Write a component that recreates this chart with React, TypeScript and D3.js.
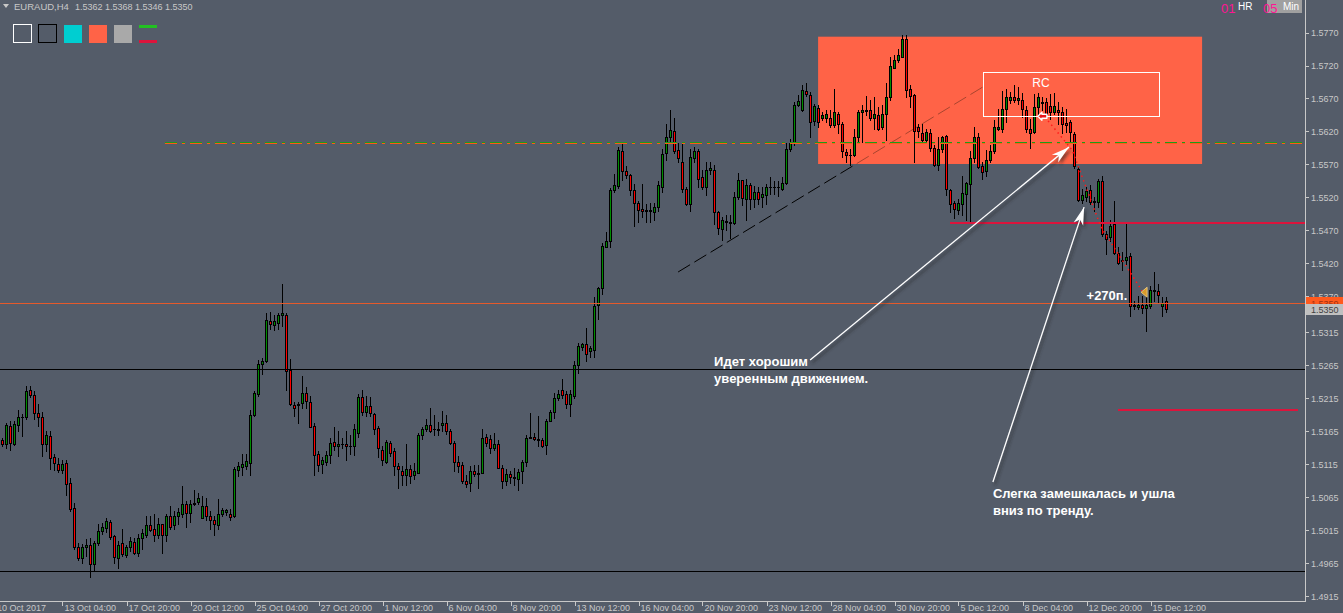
import React from "react";
import * as d3 from "d3";

const symbolTitle = "EURAUD,H4";
const lastQuote = ["1.5362", "1.5368", "1.5346", "1.5350"];

const priceTicks = [1.577, 1.572, 1.567, 1.562, 1.557, 1.552, 1.547, 1.542, 1.537, 1.5315, 1.5265, 1.5215, 1.5165, 1.5115, 1.5065, 1.5015, 1.4965, 1.4915];

const dateTickBars = [0, 15, 31, 47, 63, 79, 95, 111, 127, 143, 159, 175, 191, 207, 223, 239, 255, 271, 287];
const dateTickLabels = ["10 Oct 2017", "13 Oct 04:00", "17 Oct 20:00", "20 Oct 12:00", "25 Oct 04:00", "27 Oct 20:00", "1 Nov 12:00", "6 Nov 04:00", "8 Nov 20:00", "13 Nov 12:00", "16 Nov 04:00", "20 Nov 20:00", "23 Nov 12:00", "28 Nov 04:00", "30 Nov 20:00", "5 Dec 12:00", "8 Dec 04:00", "12 Dec 20:00", "15 Dec 12:00"];

// open, high, low, close
const candles: number[][] = [
  [1.5151,1.5155,1.5142,1.5145],[1.5146,1.5178,1.5140,1.5174],[1.5173,1.5181,1.5137,1.5147],[1.5146,1.5180,1.5144,1.5176],
  [1.5174,1.5198,1.5166,1.5186],[1.5186,1.5191,1.5158,1.5187],[1.5187,1.5234,1.5183,1.5226],[1.5228,1.5234,1.5217,1.5220],
  [1.5220,1.5226,1.5183,1.5193],[1.5193,1.5207,1.5173,1.5187],[1.5187,1.5194,1.5127,1.5145],[1.5146,1.5166,1.5135,1.5159],
  [1.5158,1.5165,1.5107,1.5124],[1.5126,1.5131,1.5106,1.5117],[1.5116,1.5124,1.5103,1.5106],[1.5106,1.5121,1.5102,1.5116],
  [1.5117,1.5122,1.5068,1.5085],[1.5086,1.5094,1.5044,1.5047],[1.5048,1.5056,1.4987,1.4989],[1.4990,1.4996,1.4969,1.4972],
  [1.4973,1.4994,1.4965,1.4989],[1.4990,1.5001,1.4975,1.4993],[1.4993,1.5003,1.4944,1.4964],[1.4963,1.4999,1.4955,1.4996],
  [1.4995,1.5025,1.4992,1.5014],[1.5014,1.5026,1.5009,1.5020],[1.5018,1.5033,1.5012,1.5029],[1.5027,1.5030,1.5001,1.5005],
  [1.5006,1.5008,1.4965,1.4974],[1.4973,1.4999,1.4957,1.4993],[1.4995,1.5016,1.4975,1.4978],[1.4977,1.4993,1.4974,1.4989],
  [1.4989,1.5005,1.4983,1.4998],[1.4997,1.5003,1.4978,1.4981],[1.4981,1.5009,1.4975,1.5003],[1.5003,1.5017,1.4987,1.5010],
  [1.5008,1.5037,1.5004,1.5022],[1.5022,1.5037,1.5013,1.5015],[1.5017,1.5040,1.4998,1.5007],[1.5008,1.5034,1.5003,1.5025],
  [1.5024,1.5025,1.4980,1.5008],[1.5008,1.5040,1.4999,1.5036],[1.5037,1.5052,1.5017,1.5020],[1.5022,1.5044,1.5017,1.5036],
  [1.5037,1.5048,1.5025,1.5042],[1.5040,1.5082,1.5035,1.5054],[1.5054,1.5059,1.5019,1.5041],[1.5041,1.5060,1.5027,1.5054],
  [1.5054,1.5076,1.5053,1.5056],[1.5057,1.5072,1.5054,1.5064],[1.5034,1.5067,1.5033,1.5052],[1.5052,1.5063,1.5031,1.5037],
  [1.5037,1.5044,1.5016,1.5031],[1.5031,1.5036,1.5008,1.5024],[1.5022,1.5062,1.5017,1.5040],[1.5040,1.5048,1.5036,1.5045],
  [1.5042,1.5047,1.5038,1.5045],[1.5040,1.5047,1.5031,1.5035],[1.5036,1.5111,1.5035,1.5107],[1.5106,1.5118,1.5097,1.5112],
  [1.5111,1.5131,1.5099,1.5116],[1.5113,1.5130,1.5108,1.5120],[1.5117,1.5197,1.5099,1.5190],[1.5189,1.5226,1.5188,1.5223],
  [1.5221,1.5273,1.5219,1.5267],[1.5267,1.5276,1.5252,1.5271],[1.5271,1.5344,1.5270,1.5334],[1.5333,1.5346,1.5320,1.5328],
  [1.5326,1.5342,1.5319,1.5333],[1.5330,1.5345,1.5320,1.5341],[1.5341,1.5388,1.5325,1.5344],[1.5342,1.5344,1.5228,1.5256],
  [1.5258,1.5275,1.5205,1.5206],[1.5205,1.5209,1.5188,1.5201],[1.5205,1.5209,1.5178,1.5206],[1.5208,1.5249,1.5201,1.5223],
  [1.5223,1.5232,1.5200,1.5211],[1.5210,1.5219,1.5171,1.5172],[1.5173,1.5178,1.5098,1.5129],[1.5131,1.5135,1.5105,1.5114],
  [1.5116,1.5126,1.5102,1.5121],[1.5119,1.5135,1.5114,1.5129],[1.5129,1.5155,1.5117,1.5147],[1.5148,1.5171,1.5137,1.5142],
  [1.5142,1.5165,1.5127,1.5146],[1.5145,1.5155,1.5140,1.5146],[1.5146,1.5165,1.5122,1.5142],[1.5143,1.5160,1.5130,1.5142],
  [1.5143,1.5176,1.5129,1.5168],[1.5163,1.5221,1.5157,1.5217],[1.5217,1.5228,1.5190,1.5194],[1.5194,1.5218,1.5188,1.5204],
  [1.5203,1.5217,1.5188,1.5192],[1.5191,1.5193,1.5161,1.5169],[1.5170,1.5173,1.5126,1.5139],[1.5137,1.5142,1.5114,1.5122],
  [1.5118,1.5152,1.5117,1.5148],[1.5147,1.5150,1.5127,1.5132],[1.5135,1.5140,1.5099,1.5113],[1.5112,1.5117,1.5079,1.5107],
  [1.5105,1.5112,1.5084,1.5098],[1.5099,1.5145,1.5084,1.5108],[1.5107,1.5114,1.5087,1.5097],[1.5098,1.5117,1.5092,1.5104],
  [1.5102,1.5163,1.5102,1.5160],[1.5160,1.5172,1.5154,1.5169],[1.5169,1.5183,1.5165,1.5175],[1.5175,1.5201,1.5164,1.5166],
  [1.5168,1.5190,1.5160,1.5169],[1.5169,1.5179,1.5160,1.5167],[1.5175,1.5196,1.5165,1.5178],[1.5178,1.5190,1.5161,1.5166],
  [1.5166,1.5169,1.5145,1.5147],[1.5147,1.5150,1.5104,1.5119],[1.5119,1.5127,1.5103,1.5113],[1.5114,1.5118,1.5087,1.5089],
  [1.5089,1.5099,1.5081,1.5085],[1.5087,1.5112,1.5074,1.5104],[1.5105,1.5114,1.5097,1.5100],[1.5100,1.5114,1.5079,1.5102],
  [1.5101,1.5168,1.5101,1.5155],[1.5157,1.5161,1.5142,1.5147],[1.5154,1.5160,1.5132,1.5140],[1.5140,1.5163,1.5137,1.5145],
  [1.5145,1.5151,1.5109,1.5110],[1.5109,1.5114,1.5079,1.5089],[1.5089,1.5107,1.5084,1.5100],[1.5100,1.5105,1.5087,1.5096],
  [1.5096,1.5109,1.5084,1.5094],[1.5093,1.5107,1.5076,1.5103],[1.5104,1.5122,1.5087,1.5118],[1.5119,1.5160,1.5113,1.5155],
  [1.5155,1.5193,1.5155,1.5157],[1.5157,1.5163,1.5151,1.5154],[1.5154,1.5188,1.5143,1.5152],[1.5152,1.5155,1.5141,1.5142],
  [1.5144,1.5183,1.5131,1.5181],[1.5181,1.5198,1.5180,1.5194],[1.5194,1.5223,1.5185,1.5216],[1.5216,1.5228,1.5213,1.5222],
  [1.5227,1.5244,1.5216,1.5220],[1.5221,1.5226,1.5201,1.5207],[1.5207,1.5228,1.5188,1.5221],[1.5218,1.5272,1.5216,1.5266],
  [1.5266,1.5299,1.5254,1.5295],[1.5293,1.5299,1.5289,1.5297],[1.5298,1.5322,1.5272,1.5283],[1.5287,1.5294,1.5277,1.5292],
  [1.5288,1.5368,1.5277,1.5355],[1.5356,1.5384,1.5335,1.5382],[1.5382,1.5450,1.5374,1.5446],[1.5445,1.5467,1.5444,1.5453],
  [1.5453,1.5534,1.5445,1.5531],[1.5531,1.5555,1.5528,1.5539],[1.5537,1.5596,1.5534,1.5592],[1.5590,1.5602,1.5547,1.5560],
  [1.5560,1.5567,1.5549,1.5554],[1.5554,1.5556,1.5524,1.5531],[1.5531,1.5540,1.5477,1.5512],[1.5512,1.5515,1.5483,1.5501],
  [1.5502,1.5540,1.5490,1.5500],[1.5500,1.5510,1.5482,1.5501],[1.5500,1.5512,1.5482,1.5501],[1.5497,1.5512,1.5485,1.5505],
  [1.5505,1.5545,1.5500,1.5538],[1.5536,1.5594,1.5528,1.5586],[1.5588,1.5632,1.5576,1.5612],[1.5611,1.5652,1.5604,1.5622],
  [1.5620,1.5640,1.5587,1.5591],[1.5592,1.5602,1.5574,1.5579],[1.5573,1.5602,1.5528,1.5532],[1.5533,1.5535,1.5509,1.5510],
  [1.5510,1.5594,1.5500,1.5581],[1.5579,1.5596,1.5574,1.5590],[1.5591,1.5594,1.5536,1.5548],[1.5551,1.5561,1.5533,1.5535],
  [1.5535,1.5574,1.5523,1.5561],[1.5561,1.5574,1.5556,1.5565],[1.5562,1.5569,1.5480,1.5497],[1.5497,1.5500,1.5465,1.5474],
  [1.5472,1.5490,1.5455,1.5485],[1.5483,1.5493,1.5470,1.5484],[1.5483,1.5493,1.5459,1.5481],[1.5481,1.5528,1.5480,1.5520],
  [1.5520,1.5557,1.5518,1.5546],[1.5546,1.5547,1.5508,1.5519],[1.5518,1.5548,1.5485,1.5538],[1.5538,1.5542,1.5503,1.5517],
  [1.5518,1.5537,1.5505,1.5528],[1.5528,1.5535,1.5510,1.5517],[1.5520,1.5536,1.5505,1.5525],[1.5523,1.5540,1.5510,1.5536],
  [1.5535,1.5551,1.5525,1.5536],[1.5536,1.5545,1.5525,1.5535],[1.5535,1.5545,1.5522,1.5536],[1.5533,1.5551,1.5531,1.5541],
  [1.5541,1.5603,1.5540,1.5593],[1.5593,1.5609,1.5591,1.5602],[1.5602,1.5665,1.5599,1.5660],[1.5660,1.5675,1.5658,1.5666],
  [1.5652,1.5690,1.5651,1.5683],[1.5682,1.5693,1.5674,1.5677],[1.5676,1.5680,1.5611,1.5635],[1.5636,1.5662,1.5630,1.5658],
  [1.5656,1.5660,1.5627,1.5635],[1.5640,1.5650,1.5637,1.5645],[1.5640,1.5652,1.5635,1.5646],[1.5640,1.5652,1.5627,1.5630],
  [1.5630,1.5685,1.5627,1.5650],[1.5647,1.5650,1.5617,1.5631],[1.5631,1.5635,1.5581,1.5591],[1.5589,1.5594,1.5574,1.5584],
  [1.5584,1.5594,1.5569,1.5585],[1.5585,1.5624,1.5582,1.5611],[1.5611,1.5652,1.5604,1.5650],[1.5650,1.5660,1.5604,1.5652],
  [1.5651,1.5674,1.5645,1.5652],[1.5652,1.5668,1.5638,1.5641],[1.5640,1.5673,1.5624,1.5647],[1.5645,1.5657,1.5622,1.5624],
  [1.5627,1.5660,1.5624,1.5647],[1.5646,1.5693,1.5607,1.5673],[1.5673,1.5733,1.5668,1.5719],[1.5717,1.5736,1.5716,1.5728],
  [1.5728,1.5745,1.5726,1.5736],[1.5733,1.5766,1.5733,1.5761],[1.5761,1.5766,1.5673,1.5683],[1.5684,1.5690,1.5657,1.5674],
  [1.5675,1.5677,1.5574,1.5620],[1.5627,1.5632,1.5612,1.5621],[1.5617,1.5631,1.5604,1.5607],[1.5607,1.5624,1.5602,1.5619],
  [1.5618,1.5624,1.5591,1.5595],[1.5595,1.5599,1.5567,1.5569],[1.5569,1.5612,1.5561,1.5594],[1.5593,1.5613,1.5589,1.5611],
  [1.5613,1.5614,1.5523,1.5532],[1.5531,1.5533,1.5498,1.5510],[1.5511,1.5515,1.5488,1.5503],[1.5501,1.5518,1.5494,1.5511],
  [1.5510,1.5553,1.5493,1.5526],[1.5525,1.5543,1.5485,1.5541],[1.5540,1.5591,1.5484,1.5579],[1.5579,1.5627,1.5574,1.5611],
  [1.5612,1.5617,1.5564,1.5566],[1.5567,1.5573,1.5548,1.5558],[1.5560,1.5592,1.5553,1.5576],[1.5576,1.5599,1.5573,1.5591],
  [1.5590,1.5637,1.5587,1.5627],[1.5624,1.5654,1.5622,1.5626],[1.5624,1.5681,1.5619,1.5654],[1.5654,1.5685,1.5634,1.5672],
  [1.5667,1.5680,1.5663,1.5673],[1.5673,1.5690,1.5665,1.5667],[1.5668,1.5687,1.5662,1.5670],[1.5668,1.5678,1.5642,1.5654],
  [1.5653,1.5658,1.5619,1.5624],[1.5624,1.5639,1.5595,1.5618],[1.5619,1.5677,1.5617,1.5657],[1.5657,1.5679,1.5644,1.5673],
  [1.5663,1.5672,1.5652,1.5665],[1.5665,1.5670,1.5643,1.5647],[1.5658,1.5677,1.5639,1.5649],[1.5649,1.5678,1.5647,1.5658],
  [1.5653,1.5665,1.5632,1.5649],[1.5649,1.5657,1.5617,1.5632],[1.5633,1.5654,1.5619,1.5630],[1.5634,1.5637,1.5606,1.5619],
  [1.5616,1.5619,1.5565,1.5567],[1.5563,1.5566,1.5515,1.5516],[1.5516,1.5533,1.5511,1.5523],[1.5521,1.5535,1.5515,1.5530],
  [1.5531,1.5538,1.5510,1.5513],[1.5515,1.5520,1.5500,1.5513],[1.5513,1.5548,1.5505,1.5545],[1.5545,1.5552,1.5462,1.5465],
  [1.5465,1.5469,1.5434,1.5457],[1.5460,1.5486,1.5454,1.5477],[1.5479,1.5515,1.5434,1.5435],[1.5435,1.5444,1.5419,1.5421],
  [1.5423,1.5437,1.5410,1.5425],[1.5425,1.5480,1.5419,1.5430],[1.5431,1.5435,1.5340,1.5355],[1.5355,1.5363,1.5350,1.5356],
  [1.5354,1.5371,1.5350,1.5356],[1.5356,1.5371,1.5345,1.5352],[1.5352,1.5371,1.5317,1.5356],[1.5355,1.5386,1.5352,1.5379],
  [1.5378,1.5406,1.5363,1.5379],[1.5378,1.5389,1.5360,1.5372],[1.5355,1.5368,1.5340,1.5360],[1.5362,1.5368,1.5346,1.5350],
];

// horizontal levels
const blackLevels = [1.52596, 1.4953];
const askLevel = 1.5359;
const bidLevel = 1.535;
const redLevels = [
  { price: 1.54818, fromBar: 236.9, toBar: 325.6 },
  { price: 1.51973, fromBar: 278.9, toBar: 323.9 },
];
const dashDotLevels = [
  { price: 1.5602, fromBar: 40.6, toBar: 325.0, color: "#ff5a14" },
  { price: 1.56044, fromBar: 40.6, toBar: 325.0, color: "#1c9a1c" },
];
// zones: [fromBar, toBar, topPrice, bottomPrice]
const supplyZone = [203.9, 299.9, 1.57638, 1.55706];
const rcBox = [245.0, 289.05, 1.57107, 1.56445];
const rcLabel = { text: "RC", bar: 259.6 };
// trendline [bar, price] endpoints
const trendLine = [[168.9, 1.54067], [245.1, 1.56875]];
const pathDots = [[260.6, 1.56419], [267.4, 1.55919], [274.6, 1.5475], [284.9, 1.53779]];
const entryMark = [260.1, 1.5643];
const exitMark = [285.4, 1.5376];
const profitText = { text: "+270п.", bar: 281.2, price: 1.5364 };
const arrows = [
  { from: [201.9, 1.52733], to: [266.6, 1.55962] },
  { from: [247.6, 1.50879], to: [270.4, 1.55052] },
];
const notes = [
  { lines: ["Идет хорошим", "уверенным движением."], bar: 177.9, price: 1.52641 },
  { lines: ["Слегка замешкалась и ушла", "вниз по тренду."], bar: 247.6, price: 1.50638 },
];

const BG = "#545c69";
const AXIS = "#c8c8c8";
const BULL = "#008c00";
const BEAR = "#ff0000";
const FONT = "'Liberation Sans', Arial, sans-serif";

export default function App() {
  const W = 1343, H = 613;
  const plotRight = 1305;
  const plotBottom = 601;
  const x = d3.scaleLinear().domain([0, 291]).range([2.5, 1166.5]);
  const y = d3.scaleLinear().domain([1.4915, 1.577]).range([596, 32.6]);
  const py = (p: number) => Math.round(y(p)) + 0.5;

  const arrowHead = (fx: number, fy: number, tx: number, ty: number) => {
    const dx = tx - fx, dy = ty - fy;
    const len = Math.hypot(dx, dy);
    const ux = dx / len, uy = dy / len;
    const nx = -uy, ny = ux;
    const L = 18, w = 5;
    const p = d3.path();
    p.moveTo(tx, ty);
    p.lineTo(tx - L * ux + w * nx, ty - L * uy + w * ny);
    p.lineTo(tx - 0.72 * L * ux, ty - 0.72 * L * uy);
    p.lineTo(tx - L * ux - w * nx, ty - L * uy - w * ny);
    p.closePath();
    return p.toString();
  };

  const zx0 = x(supplyZone[0]), zx1 = x(supplyZone[1]);
  const zy0 = y(supplyZone[2]), zy1 = y(supplyZone[3]);

  const trendPath = d3.line()(trendLine.map(([b, p]) => [x(b), y(p)] as [number, number])) || "";
  const dotPath = d3.line()(pathDots.map(([b, p]) => [x(b), y(p)] as [number, number])) || "";

  const quoteX = [75, 105, 135, 165];

  return (
    <svg width={W} height={H} style={{ position: "absolute", left: 0, top: 0, display: "block" }} fontFamily={FONT}>
      <defs>
        <clipPath id="plot"><rect x={0} y={0} width={plotRight} height={plotBottom} /></clipPath>
        <clipPath id="zoneClip"><rect x={zx0} y={zy0} width={zx1 - zx0} height={zy1 - zy0} /></clipPath>
        <mask id="outsideZone">
          <rect x={0} y={0} width={W} height={H} fill="#fff" />
          <rect x={zx0} y={zy0} width={zx1 - zx0} height={zy1 - zy0} fill="#000" />
        </mask>
        <filter id="shadow" x="-20%" y="-20%" width="140%" height="140%">
          <feGaussianBlur stdDeviation="1.6" />
        </filter>
      </defs>
      <rect x={0} y={0} width={W} height={H} fill={BG} />

      <g clipPath="url(#plot)">
        {/* supply zone */}
        <rect x={zx0} y={zy0} width={zx1 - zx0} height={zy1 - zy0} fill="#ff6347" />

        {/* trend line */}
        <path d={trendPath} stroke="#000" strokeWidth={1} strokeDasharray="14,5" fill="none" mask="url(#outsideZone)" />
        <path d={trendPath} stroke="#a8452f" strokeWidth={1} strokeDasharray="14,5" fill="none" clipPath="url(#zoneClip)" />

        {/* candles */}
        <g shapeRendering="crispEdges">
          {candles.map(([o, h, l, c], i) => {
            const cx = Math.round(x(i) - 0.5);
            const yh = Math.round(y(h)), yl = Math.round(y(l));
            const yo = Math.round(y(o)), yc = Math.round(y(c));
            const top = Math.min(yo, yc), bot = Math.max(yo, yc);
            const bh = Math.max(1, bot - top + 1);
            const col = c > o ? BULL : c < o ? BEAR : "#000";
            return (
              <g key={i}>
                <rect x={cx} y={yh} width={1} height={Math.max(1, yl - yh + 1)} fill="#000" />
                <rect x={cx - 1} y={top} width={3} height={bh} fill="#000" />
                {bh > 2 && <rect x={cx} y={top + 1} width={1} height={bh - 2} fill={col} />}
              </g>
            );
          })}
        </g>

        {/* horizontal levels */}
        <g shapeRendering="crispEdges">
          {blackLevels.map((p, i) => (
            <line key={"b" + i} x1={0} x2={plotRight} y1={py(p)} y2={py(p)} stroke="#000" strokeWidth={1} />
          ))}
          <line x1={0} x2={plotRight} y1={py(askLevel)} y2={py(askLevel)} stroke="#e55a2b" strokeWidth={1} />
          {redLevels.map((r, i) => (
            <line key={"r" + i} x1={x(r.fromBar)} x2={x(r.toBar)} y1={Math.round(y(r.price))} y2={Math.round(y(r.price))} stroke="#dc143c" strokeWidth={2} />
          ))}
          {dashDotLevels.map((d, i) => (
            <line key={"d" + i} x1={x(d.fromBar)} x2={x(d.toBar)} y1={py(d.price)} y2={py(d.price)} stroke={d.color} strokeWidth={1} strokeDasharray="12,5,3,5" />
          ))}
        </g>

        {/* RC box */}
        <rect x={Math.round(x(rcBox[0])) + 0.5} y={Math.round(y(rcBox[2])) + 0.5} width={Math.round(x(rcBox[1]) - x(rcBox[0]))} height={Math.round(y(rcBox[3]) - y(rcBox[2]))} fill="none" stroke="#fff" strokeWidth={1} />
        <text x={x(rcLabel.bar)} y={y(rcBox[2]) + 15} fill="#fff" fontSize={12} textAnchor="middle">{rcLabel.text}</text>

        {/* red dotted path */}
        <path d={dotPath} stroke="#ff1a1a" strokeWidth={1.5} strokeDasharray="1.5,3.5" fill="none" />

        {/* entry marker */}
        <g transform={`translate(${x(entryMark[0])},${y(entryMark[1])})`}>
          <path d="M-5,0 L-1,-4 L-1,-2 L4,-2 L4,2 L-1,2 L-1,4 Z" fill="#e8151b" stroke="#fff" strokeWidth={1.4} strokeLinejoin="round" />
        </g>
        {/* exit marker */}
        <g transform={`translate(${x(exitMark[0])},${y(exitMark[1])})`}>
          <path d="M-3,0 L3,-5 L3,5 Z" fill="#d89a2a" stroke="#f3d38a" strokeWidth={0.8} />
        </g>
        <text x={x(profitText.bar)} y={y(profitText.price)} fill="#fff" fontSize={13} fontWeight="bold" textAnchor="end">{profitText.text}</text>

        {/* white arrows */}
        {arrows.map((a, i) => {
          const fx = x(a.from[0]), fy = y(a.from[1]);
          const tx = x(a.to[0]), ty = y(a.to[1]);
          return (
            <g key={"a" + i}>
              <g transform="translate(2,3)" filter="url(#shadow)" opacity={0.55}>
                <line x1={fx} y1={fy} x2={tx} y2={ty} stroke="#222" strokeWidth={1.5} />
                <path d={arrowHead(fx, fy, tx, ty)} fill="#222" />
              </g>
              <line x1={fx} y1={fy} x2={tx} y2={ty} stroke="#fff" strokeWidth={1.3} />
              <path d={arrowHead(fx, fy, tx, ty)} fill="#fff" />
            </g>
          );
        })}

        {/* notes */}
        {notes.map((n, i) => (
          <text key={"n" + i} x={x(n.bar)} y={y(n.price)} fill="#fff" fontSize={13} fontWeight="bold">
            {n.lines.map((l, j) => (
              <tspan key={j} x={x(n.bar)} dy={j === 0 ? 0 : 17}>{l}</tspan>
            ))}
          </text>
        ))}
      </g>

      {/* axes */}
      <g shapeRendering="crispEdges">
        <line x1={plotRight + 0.5} x2={plotRight + 0.5} y1={0} y2={plotBottom + 1} stroke={AXIS} />
        <line x1={0} x2={plotRight + 1} y1={plotBottom + 0.5} y2={plotBottom + 0.5} stroke={AXIS} />
        {priceTicks.map((p, i) => (
          <line key={"pt" + i} x1={plotRight + 1} x2={plotRight + 4} y1={py(p)} y2={py(p)} stroke={AXIS} />
        ))}
        {dateTickBars.slice(1).map((b, i) => (
          <line key={"dt" + i} x1={Math.round(x(b)) + 0.5} x2={Math.round(x(b)) + 0.5} y1={plotBottom} y2={plotBottom + 5} stroke={AXIS} />
        ))}
      </g>
      {priceTicks.map((p, i) => (
        <text key={"pl" + i} x={plotRight + 6} y={y(p) + 3.5} fill={AXIS} fontSize={9}>{p.toFixed(4)}</text>
      ))}
      {dateTickLabels.map((t, i) => (
        <text key={"dl" + i} x={i === 0 ? -3 : x(dateTickBars[i]) + 2} y={611} fill={AXIS} fontSize={9}>{t}</text>
      ))}

      {/* price tags */}
      <rect x={plotRight + 1} y={Math.round(y(askLevel)) - 6} width={W - plotRight - 1} height={12} fill="#ff5a1e" />
      <text x={plotRight + 6} y={y(askLevel) + 3.5} fill="#a03010" fontSize={9}>{askLevel.toFixed(4)}</text>
      <rect x={plotRight + 1} y={Math.round(y(bidLevel)) - 5} width={W - plotRight - 1} height={11} fill="#c0c0c0" />
      <text x={plotRight + 6} y={y(bidLevel) + 3.5} fill="#404040" fontSize={9}>{bidLevel.toFixed(4)}</text>

      {/* header */}
      <path d="M3,4 L9,4 L6,8 Z" fill={AXIS} />
      <text x={14} y={10} fill={AXIS} fontSize={9.5}>{symbolTitle}</text>
      {lastQuote.map((q, i) => (
        <text key={"q" + i} x={quoteX[i]} y={10} fill={AXIS} fontSize={9}>{q}</text>
      ))}

      {/* legend swatches */}
      <g shapeRendering="crispEdges">
        <rect x={13.5} y={24.5} width={18} height={18} fill="none" stroke="#fff" strokeWidth={1} />
        <rect x={38.5} y={24.5} width={18} height={18} fill="none" stroke="#000" strokeWidth={1} />
        <rect x={64} y={25} width={18} height={18} fill="#00ced1" />
        <rect x={89} y={25} width={18} height={18} fill="#ff6347" />
        <rect x={114} y={25} width={18} height={18} fill="#a9a9a9" />
        <rect x={139} y={25} width={18} height={3} fill="#22c022" />
        <rect x={139} y={40} width={18} height={3} fill="#dc143c" />
      </g>

      {/* timeframe widget */}
      <text x={1221} y={13} fill="#ff1493" fontSize={13}>01</text>
      <text x={1238} y={10} fill="#fff" fontSize={10}>HR</text>
      <rect x={1267} y={0} width={35} height={13} fill="#a0a0a0" />
      <text x={1263} y={13} fill="#ff1493" fontSize={13}>05</text>
      <text x={1283} y={10} fill="#fff" fontSize={10}>Min</text>
    </svg>
  );
}
